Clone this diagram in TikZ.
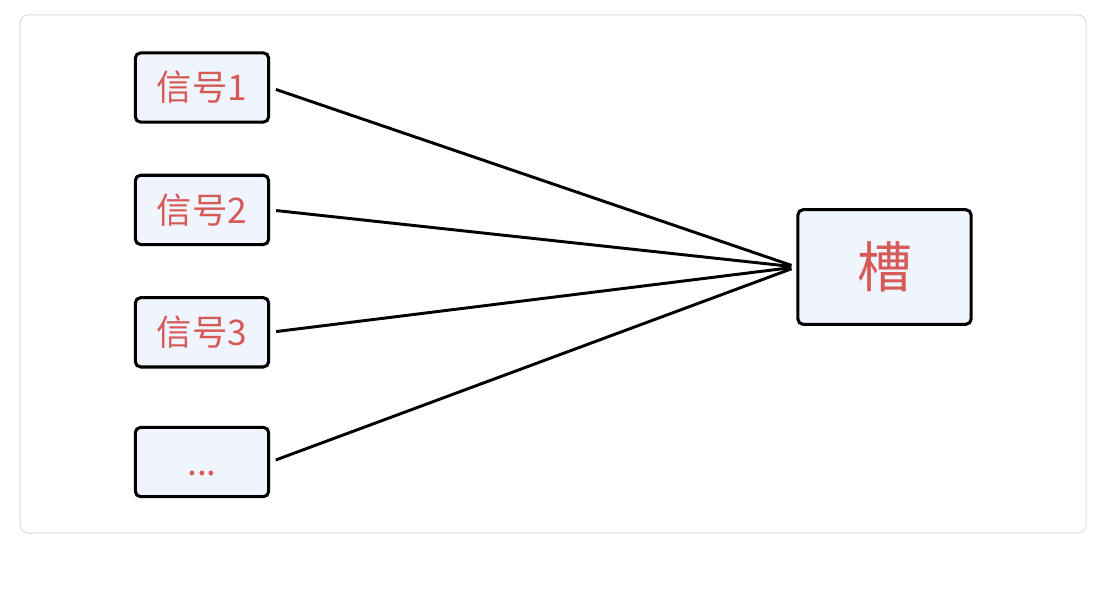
\documentclass[tikz,border=0pt]{standalone}
\usepackage{fontspec}
\setmainfont{Noto Sans CJK SC}
\usetikzlibrary{positioning}
\definecolor{boxfill}{RGB}{240,244,252}
\definecolor{sigred}{RGB}{214,90,88}
\definecolor{framegray}{RGB}{218,218,218}

\begin{document}
\begin{tikzpicture}[
    x=0.75pt,y=-0.75pt,
    basic/.style={draw,line width=2.3pt,rounded corners=4pt,fill=boxfill,text=sigred,inner sep=0pt},
    sig/.style={basic,minimum width=100pt,minimum height=52pt,execute at begin node={\vphantom{信}},font=\fontsize{26.5}{30}\selectfont},
    slotbox/.style={basic,minimum width=130pt,minimum height=86pt,font=\fontsize{41}{46}\selectfont},
    wire/.style={line width=2.2pt,shorten <=4.5pt,shorten >=3.8pt},
]
    \useasboundingbox (0,0) rectangle (1112,606);
    \draw[framegray,line width=0.75pt,rounded corners=6pt] (20,15) rectangle (1086,533);

    %signals
    \node[sig] (s1) at (202,87.5) {信号1};
    \node[sig,below=37.5pt of s1] (s2) {信号2};
    \node[sig,below=37.5pt of s2] (s3) {信号3};
    \node[sig,below=43pt of s3] (s4) {...};

    %slot
    \node[slotbox] (slot) at (884.5,267) {槽};

    \draw[wire] (s1.east) -- (slot.west);
    \draw[wire] (s2.east) -- (slot.west);
    \draw[wire] (s3.east) -- (slot.west);
    \draw[wire] (s4.east) -- (slot.west);
\end{tikzpicture}
\end{document}
